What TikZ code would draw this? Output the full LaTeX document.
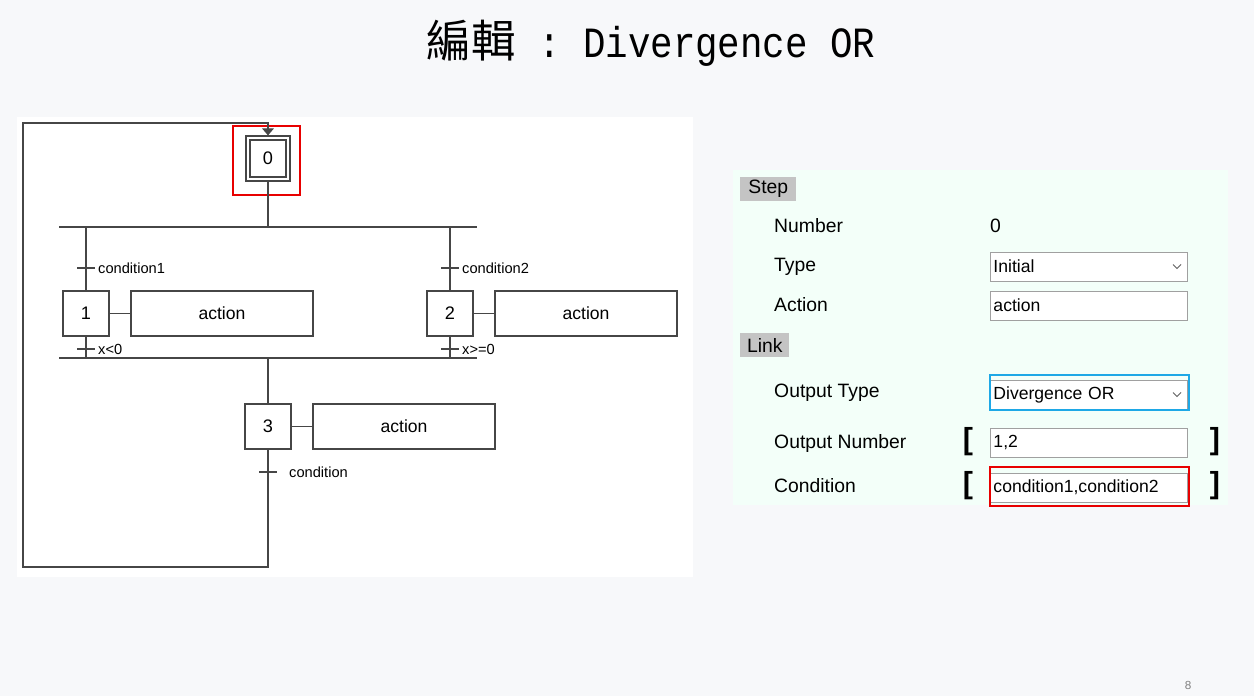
\documentclass[tikz,border=0pt]{standalone}
\usepackage{fontspec}
\setmainfont{Liberation Sans}
\setmonofont{Liberation Mono}
\newfontfamily\cjk{Noto Sans CJK TC}
\usetikzlibrary{arrows.meta}
\definecolor{slidebg}{RGB}{247,248,250}
\definecolor{panelbg}{RGB}{243,255,249}
\definecolor{hdrgray}{RGB}{196,196,196}
\definecolor{boxgray}{RGB}{160,160,160}
\definecolor{linegray}{RGB}{70,70,70}
\definecolor{markred}{RGB}{232,0,0}
\definecolor{markblue}{RGB}{30,168,230}

\begin{document}
\begin{tikzpicture}[x=0.03cm,y=-0.03cm,
  stepbox/.style={draw=linegray,line width=1pt,minimum width=1.38cm,minimum height=1.35cm,inner sep=0pt,font=\fontsize{15.5}{18}\selectfont},
  actbox/.style={stepbox,minimum width=5.46cm,font=\fontsize{15}{18}\selectfont},
  link/.style={draw=linegray,line width=1pt},
  cond/.style={anchor=west,inner sep=0pt,font=\fontsize{12.5}{15}\selectfont},
  field/.style={anchor=base west,inner sep=0pt,font=\fontsize{16.5}{20}\selectfont},
  entry/.style={draw=boxgray,fill=white,anchor=west,line width=0.8pt,text width=5.73cm,minimum height=0.87cm,inner xsep=0.09cm,inner ysep=0pt,align=left,font=\fontsize{15}{18}\selectfont},
  header/.style={fill=hdrgray,anchor=west,minimum height=0.72cm,inner sep=0pt,font=\fontsize{16.5}{20}\selectfont},
  brack/.style={inner sep=0pt,font=\fontsize{26}{28}\selectfont\bfseries}
]
% Background and panels
\useasboundingbox[fill=slidebg] (0,0) rectangle (1254,696);
\fill[white] (17,117) rectangle (693,577);
\fill[panelbg] (733,170) rectangle (1228,505);

% Title
\node[anchor=base] (title) at (651,57) {{\cjk\fontsize{38}{40}\selectfont 編輯}\scalebox{1}[1.15]{\ttfamily\fontsize{32}{36}\selectfont\ : Divergence OR}};

% Initial step
\node[stepbox,minimum width=1.32cm] (s0) at (268,158.5) {};
\node[stepbox,minimum width=1.08cm,minimum height=1.11cm] (s0in) at (268,158.5) {0};
\draw[markred,line width=2.5pt] (233,126) rectangle (300,195);

% Divergence OR
\coordinate (divL) at (59,227);
\coordinate (divR) at (477,227);
\draw[link] (divL) -- (divR);
\draw[link] (s0.south) -- (268,227);

% Branch 1
\node[stepbox] (s1) at (86,313.5) {1};
\node[actbox] (a1) at (222,313.5) {action};
\draw[link] (s1.east) -- (a1.west);
\draw[link] (86,227) -- (s1.north);
\draw[link] (s1.south) -- (86,358);

% Branch 2
\node[stepbox] (s2) at (450,313.5) {2};
\node[actbox] (a2) at (586,313.5) {action};
\draw[link] (s2.east) -- (a2.west);
\draw[link] (450,227) -- (s2.north);
\draw[link] (s2.south) -- (450,358);

% Convergence
\coordinate (conL) at (59,358);
\coordinate (conR) at (477,358);
\draw[link] (conL) -- (conR);

% Step 3 and loop back
\node[stepbox] (s3) at (268,426.5) {3};
\node[actbox] (a3) at (404,426.5) {action};
\draw[link] (s3.east) -- (a3.west);
\draw[link] (268,358) -- (s3.north);
\coordinate (loopB) at (268,567);
\coordinate (loopT) at (23,123);
\draw[link,-{Triangle[width=10pt,length=6pt]}] (s3.south) -- (loopB) -| (loopT) -| (s0.north);

% Transitions
\foreach \x/\y in {86/268,86/349,450/268,450/349,268/472}
  \draw[link] (\x-9,\y) -- (\x+9,\y);
\node[cond] (t1) at (98,268) {condition1};
\node[cond] (t2) at (98,349) {x<0};
\node[cond] (t3) at (462,268) {condition2};
\node[cond] (t4) at (462,349) {x>=0};
\node[cond] (t5) at (289,472) {condition};

% Property panel
\node[header,minimum width=1.68cm] (hstep) at (740,189) {Step};
\node[field] (fnum) at (774,232) {Number};
\node[field] (vnum) at (990,232) {0};
\node[field] (ftype) at (774,271) {Type};
\node[entry] (etype) at (990,266.5) {Initial};
\node[field] (fact) at (774,311) {Action};
\node[entry] (eact) at (990,305.5) {action};

\node[header,minimum width=1.47cm] (hlink) at (740,345) {Link};
\node[field] (fout) at (774,397) {Output Type};
\node[entry] (eout) at (990,394.5) {Divergence OR};
\node[field] (fonum) at (774,448) {Output Number};
\node[entry] (eonum) at (990,442.5) {1,2};
\node[field] (fcond) at (774,492) {Condition};
\node[entry] (econd) at (990,487.5) {condition1,condition2};

% Chevrons
\foreach \y in {266.5,394.5}
  \draw[boxgray!60!black,line width=0.7pt] (1173,\y-2) -- (1177,\y+2) -- (1181,\y-2);

% Brackets
\node[brack] (bl1) at (968,442) {[};
\node[brack] (br1) at (1215,442) {]};
\node[brack] (bl2) at (968,486) {[};
\node[brack] (br2) at (1215,486) {]};

% Highlights
\draw[markblue,line width=2.5pt] (990,375) rectangle (1189,410);
\draw[markred,line width=2.5pt] (990,467) rectangle (1189,506);

% Page number
\node[text=gray,font=\fontsize{10}{11}\selectfont] (page) at (1188,685) {8};
\end{tikzpicture}
\end{document}
